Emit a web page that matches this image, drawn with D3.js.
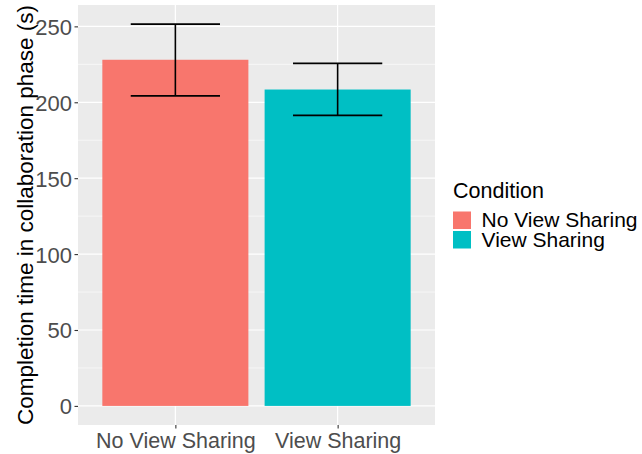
<!DOCTYPE html>
<html>
<head>
<meta charset="utf-8">
<script src="https://cdn.jsdelivr.net/npm/d3@7"></script>
<style>
  body { margin: 0; background: #fff; }
  svg { display: block; font-family: Arial, "Liberation Sans", sans-serif; }
</style>
</head>
<body>
<div id="chart"></div>
<script>
(() => {
  const conditions = ["No View Sharing", "View Sharing"];
  const means = [228, 208.4];
  const lower = [204.2, 191.4];
  const upper = [251.5, 225.6];
  const yTicks = [0, 50, 100, 150, 200, 250];
  const yMinor = [25, 75, 125, 175, 225];
  const colors = ["#F8766D", "#00BFC4"];

  const width = 642;
  const height = 454;
  const panel = { left: 78, right: 435, top: 5, bottom: 425 };

  const svg = d3.select("#chart")
    .append("svg")
    .attr("width", width)
    .attr("height", height);

  // ggplot style expansion: 5% continuous, 0.6 discrete
  const yMax = d3.max(upper);
  const pad = yMax * 0.05;
  const y = d3.scaleLinear()
    .domain([-pad, yMax + pad])
    .range([panel.bottom, panel.top]);

  const x = d3.scaleLinear()
    .domain([0.4, conditions.length + 0.6])
    .range([panel.left, panel.right]);
  const bw = x(0.9) - x(0);
  const ew = x(0.55) - x(0);

  svg.append("rect")
    .attr("x", panel.left)
    .attr("y", panel.top)
    .attr("width", panel.right - panel.left)
    .attr("height", panel.bottom - panel.top)
    .attr("fill", "#EBEBEB");

  const grid = svg.append("g");
  grid.selectAll(".minor")
    .data(yMinor)
    .join("line")
    .attr("x1", panel.left).attr("x2", panel.right)
    .attr("y1", d => y(d)).attr("y2", d => y(d))
    .attr("stroke", "#fff").attr("stroke-width", 0.6);
  grid.selectAll(".major")
    .data(yTicks)
    .join("line")
    .attr("x1", panel.left).attr("x2", panel.right)
    .attr("y1", d => y(d)).attr("y2", d => y(d))
    .attr("stroke", "#fff").attr("stroke-width", 1.2);
  grid.selectAll(".vmajor")
    .data(conditions)
    .join("line")
    .attr("x1", (d, i) => x(i + 1)).attr("x2", (d, i) => x(i + 1))
    .attr("y1", panel.top).attr("y2", panel.bottom)
    .attr("stroke", "#fff").attr("stroke-width", 1.2);

  svg.append("g")
    .selectAll("rect")
    .data(conditions)
    .join("rect")
    .attr("x", (d, i) => x(i + 1) - bw / 2)
    .attr("y", (d, i) => y(means[i]))
    .attr("width", bw)
    .attr("height", (d, i) => y(0) - y(means[i]))
    .attr("fill", (d, i) => colors[i]);

  // error bars
  const eb = svg.append("g")
    .attr("stroke", "#000")
    .attr("stroke-width", 1.6);
  conditions.forEach((c, i) => {
    const cx = x(i + 1);
    eb.append("line").attr("x1", cx).attr("x2", cx).attr("y1", y(lower[i])).attr("y2", y(upper[i]));
    eb.append("line").attr("x1", cx - ew / 2).attr("x2", cx + ew / 2).attr("y1", y(lower[i])).attr("y2", y(lower[i]));
    eb.append("line").attr("x1", cx - ew / 2).attr("x2", cx + ew / 2).attr("y1", y(upper[i])).attr("y2", y(upper[i]));
  });

  // y axis
  const yAxis = svg.append("g")
    .attr("transform", `translate(${panel.left},0)`)
    .call(d3.axisLeft(y).tickValues(yTicks).tickSize(3.5).tickPadding(2.5));
  yAxis.select(".domain").remove();
  yAxis.selectAll("line").attr("stroke", "#333").attr("stroke-width", 1.1);
  yAxis.selectAll("text").attr("fill", "#4D4D4D").style("font-size", "22px")
    .attr("dy", "0.36em");

  // x axis
  const xAxis = svg.append("g")
    .attr("transform", `translate(0,${panel.bottom})`)
    .call(d3.axisBottom(x).tickValues(conditions.map((c, i) => i + 1))
      .tickFormat(d => conditions[d - 1]).tickSize(3.5).tickPadding(4));
  xAxis.select(".domain").remove();
  xAxis.selectAll("line").attr("stroke", "#333").attr("stroke-width", 1.1);
  xAxis.selectAll("text").attr("fill", "#4D4D4D").style("font-size", "21.5px");

  svg.append("text")
    .attr("transform", `translate(32.5,${(panel.top + panel.bottom) / 2}) rotate(-90)`)
    .attr("text-anchor", "middle")
    .style("font-size", "22.5px")
    .attr("fill", "#000")
    .text("Completion time in collaboration phase (s)");

  // legend
  const legend = svg.append("g").attr("transform", "translate(453,0)");
  legend.append("text")
    .attr("x", 0).attr("y", 198)
    .style("font-size", "21.5px")
    .attr("fill", "#000")
    .text("Condition");
  conditions.forEach((c, i) => {
    legend.append("rect")
      .attr("x", 0).attr("y", 211.5 + i * 19.5)
      .attr("width", 18).attr("height", 17.5)
      .attr("fill", colors[i]);
    legend.append("text")
      .attr("x", 28.5).attr("y", 227 + i * 19.5)
      .style("font-size", "21px")
      .attr("fill", "#000")
      .text(c);
  });
})();
</script>
</body>
</html>
